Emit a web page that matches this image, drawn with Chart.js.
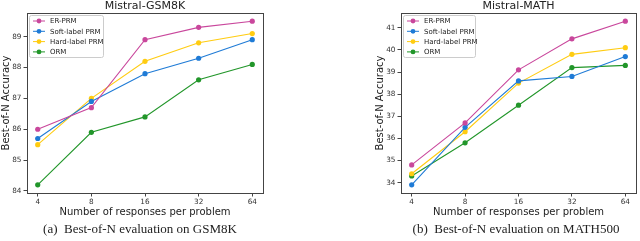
<!DOCTYPE html>
<html>
<head>
<meta charset="utf-8">
<script src="https://cdn.jsdelivr.net/npm/chart.js@4.4.1/dist/chart.umd.min.js"></script>
<style>
  body { margin: 0; background: #fff; }
  #wrap { position: relative; width: 640px; height: 241px; overflow: hidden; }
  canvas { position: absolute; top: 0; }
  .cap { position: absolute; top: 221px; font-family: 'Liberation Serif', serif; font-size: 13px; color: #222; white-space: nowrap; transform: translateX(-50%); }
</style>
</head>
<body>
<div id="wrap">
  <canvas id="gsm" width="320" height="222" style="left:0"></canvas>
  <canvas id="math" width="320" height="222" style="left:320px"></canvas>
  <div class="cap" style="left:140px">(a)&nbsp; Best-of-N evaluation on GSM8K</div>
  <div class="cap" style="left:516px">(b)&nbsp; Best-of-N evaluation on MATH500</div>
</div>
<script>
// x categories (number of responses)
var xLabels = ["4", "8", "16", "32", "64"];
var seriesNames = ["ER-PRM", "Soft-label PRM", "Hard-label PRM", "ORM"];

// Mistral-GSM8K values
var gsmEr = [86.0, 86.7, 88.9, 89.3, 89.5];
var gsmSoft = [85.7, 86.9, 87.8, 88.3, 88.9];
var gsmHard = [85.5, 87.0, 88.2, 88.8, 89.1];
var gsmOrm = [84.2, 85.9, 86.4, 87.6, 88.1];
var gsmTicks = [84, 85, 86, 87, 88, 89];

// Mistral-MATH values
var mathEr = [34.8, 36.7, 39.1, 40.5, 41.3];
var mathSoft = [33.9, 36.5, 38.6, 38.8, 39.7];
var mathHard = [34.4, 36.3, 38.5, 39.8, 40.1];
var mathOrm = [34.3, 35.8, 37.5, 39.2, 39.3];
var mathTicks = [34, 35, 36, 37, 38, 39, 40, 41];

// line colors
var cEr = "#c9479c";
var cSoft = "#1f7bd6";
var cHard = "#ffcc11";
var cOrm = "#22962a";

var tickFont = { family: "DejaVu Sans", size: 7.3 };
var labelFont = { family: "DejaVu Sans", size: 10 };

// frame, title and legend drawn on top of the chart
var decorPlugin = {
    id: 'decor',
    afterDraw: function(chart, args, opts) {
        var ctx = chart.ctx;
        var a = chart.chartArea;
        ctx.save();
        ctx.strokeStyle = "#444";
        ctx.lineWidth = 1;
        ctx.strokeRect(Math.round(a.left) + 0.5, Math.round(a.top) + 0.5,
            Math.round(a.right - a.left), Math.round(a.bottom - a.top));

        // title
        ctx.fillStyle = "#222";
        ctx.font = "11px 'DejaVu Sans'";
        ctx.textAlign = "center";
        ctx.textBaseline = "middle";
        ctx.fillText(opts.title, (a.left + a.right) / 2, a.top - 7);

        // legend box
        var lx = a.left + 2, ly = a.top + 2, lw = opts.legendWidth, lh = 42;
        ctx.fillStyle = "rgba(255,255,255,0.85)";
        ctx.strokeStyle = "#cccccc";
        ctx.beginPath();
        ctx.roundRect(lx + 0.5, ly + 0.5, lw, lh, 2);
        ctx.fill();
        ctx.stroke();
        ctx.font = "7px 'DejaVu Sans'";
        ctx.textAlign = "left";
        chart.data.datasets.forEach(function(ds, i) {
            var yy = ly + 6 + i * 10.3;
            ctx.strokeStyle = ds.borderColor;
            ctx.lineWidth = 1;
            ctx.beginPath();
            ctx.moveTo(lx + 4, yy);
            ctx.lineTo(lx + 16, yy);
            ctx.stroke();
            ctx.fillStyle = ds.borderColor;
            ctx.beginPath();
            ctx.arc(lx + 10, yy, 2.4, 0, Math.PI * 2);
            ctx.fill();
            ctx.fillStyle = "#222";
            ctx.fillText(ds.label, lx + 21, yy + 0.5);
        });
        ctx.restore();
    }
};

function makeSet(name, vals, color) {
    return {
        label: name,
        data: vals.map(function(v, i) { return { x: i, y: v }; }),
        borderColor: color,
        backgroundColor: color,
        borderWidth: 1.1,
        pointRadius: 2.6,
        pointBorderWidth: 0,
        tension: 0
    };
}

function makeChart(id, sets, yTicks, yMin, yMax, padLeft, padRight, title, legendWidth) {
    var ctx = document.getElementById(id).getContext('2d');
    return new Chart(ctx, {
        type: 'line',
        data: { datasets: sets },
        plugins: [decorPlugin],
        options: {
            responsive: false,
            animation: false,
            layout: { padding: { left: padLeft, right: padRight, top: 13, bottom: 0 } },
            plugins: {
                legend: { display: false },
                tooltip: { enabled: false },
                decor: { title: title, legendWidth: legendWidth }
            },
            scales: {
                x: {
                    type: 'linear',
                    min: -0.2,
                    max: 4.2,
                    afterBuildTicks: function(s) {
                        s.ticks = xLabels.map(function(l, i) { return { value: i }; });
                    },
                    afterFit: function(s) { s.height = 29; },
                    ticks: {
                        font: tickFont,
                        color: "#333",
                        padding: 1,
                        maxRotation: 0,
                        callback: function(v) { return xLabels[v]; }
                    },
                    grid: { drawOnChartArea: false, drawTicks: true, tickLength: 3.5, color: "#444" },
                    border: { display: false },
                    title: { display: true, text: 'Number of responses per problem', font: labelFont, color: "#222", padding: { top: 0, bottom: 4 } }
                },
                y: {
                    min: yMin,
                    max: yMax,
                    afterBuildTicks: function(s) {
                        s.ticks = yTicks.map(function(v) { return { value: v }; });
                    },
                    afterFit: function(s) { s.width = 27; },
                    ticks: { font: tickFont, color: "#333", padding: 2 },
                    grid: { drawOnChartArea: false, drawTicks: true, tickLength: 3.5, color: "#444" },
                    border: { display: false },
                    title: { display: true, text: 'Best-of-N Accuracy', font: labelFont, color: "#222", padding: 0 }
                }
            }
        }
    });
}

makeChart('gsm', [
    makeSet(seriesNames[0], gsmEr, cEr),
    makeSet(seriesNames[1], gsmSoft, cSoft),
    makeSet(seriesNames[2], gsmHard, cHard),
    makeSet(seriesNames[3], gsmOrm, cOrm)
], gsmTicks, 83.935, 89.765, 0, 57, 'Mistral-GSM8K', 74);

makeChart('math', [
    makeSet(seriesNames[0], mathEr, cEr),
    makeSet(seriesNames[1], mathSoft, cSoft),
    makeSet(seriesNames[2], mathHard, cHard),
    makeSet(seriesNames[3], mathOrm, cOrm)
], mathTicks, 33.53, 41.67, 54, 2, 'Mistral-MATH', 72);
</script>
</body>
</html>
